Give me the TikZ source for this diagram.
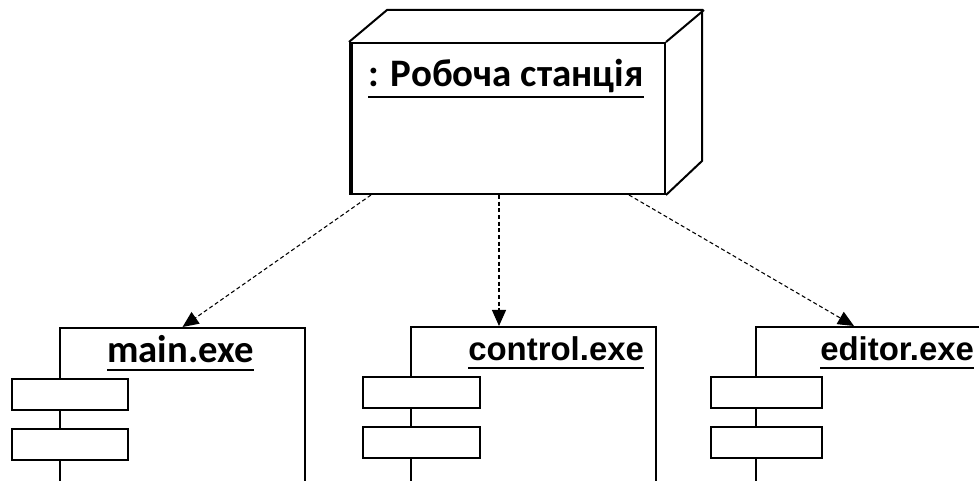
\documentclass[tikz,border=0pt]{standalone}
\usepackage{fontspec}
\setmainfont{Carlito}
\newfontfamily\arialfont{Liberation Sans}
\usetikzlibrary{arrows.meta,calc}
\begin{document}
\begin{tikzpicture}[x=0.75pt,y=-0.75pt,
  edge/.style={line width=1.5pt, line join=miter},
  facebox/.style={draw, edge, inner sep=0pt, minimum width=236.25pt, minimum height=113.25pt},
  compbox/.style={draw, edge, inner sep=0pt, minimum height=129.75pt},
  port/.style={draw, edge, fill=white, inner sep=0pt, minimum height=23.25pt},
  lblA/.style={font=\bfseries\fontsize{29}{32}\selectfont, inner sep=0pt, anchor=base west},
  lblB/.style={font=\arialfont\bfseries\fontsize{24.7}{28}\selectfont, inner sep=0pt, anchor=base west},
  uline/.style={line width=1.3pt},
  dep/.style={line width=0.8pt, dash pattern=on 3pt off 2pt, -{Triangle[length=12pt,width=10.5pt]}}
]
\useasboundingbox (0,0) rectangle (979,481);
\clip (0,0) rectangle (979,481);

% workstation node
\node[facebox] (ws) at (507.5,118.5) {};
\draw[edge] (ws.north west) -- ++(38,-32) -- ++(315,0) -- ++(0,151) -- (ws.south east);
\draw[edge] (ws.north east) -- ++(38,-32);
\draw[line width=3pt] ($(ws.north west)+(2,0)$) -- ($(ws.south west)+(2,0)$);
\node[font=\bfseries\fontsize{29.2}{32}\selectfont, inner sep=0pt, anchor=base west] (wslbl) at (368,87) {: Робоча станція};
\draw[uline] ($(wslbl.base west)+(0,10)$) -- ($(wslbl.base east)+(0,10)$);

% components
\node[compbox, minimum width=183.75pt] (mainbox) at (182.5,414.5) {};
\node[port, minimum width=87pt] (mainp1) at (70,394.5) {};
\node[port, minimum width=87pt] (mainp2) at (70,444.5) {};
\node[lblA] (mainlbl) at (107,363) {main.exe};
\draw[uline] ($(mainlbl.base west)+(0,7)$) -- ($(mainlbl.base east)+(0,7)$);

\node[compbox, minimum width=183.75pt] (ctrlbox) at (533.5,413.5) {};
\node[port, minimum width=87.75pt] (ctrlp1) at (421.5,392.5) {};
\node[port, minimum width=87.75pt] (ctrlp2) at (421.5,442.5) {};
\node[lblB] (ctrllbl) at (468,360) {control.exe};
\draw[uline] ($(ctrllbl.base west)+(0,8)$) -- ($(ctrllbl.base east)+(0,8)$);

\node[compbox, minimum width=183pt] (edbox) at (878,413.5) {};
\node[port, minimum width=83.25pt] (edp1) at (766.5,392.5) {};
\node[port, minimum width=83.25pt] (edp2) at (766.5,442.5) {};
\node[lblB] (edlbl) at (820,360) {editor.exe};
\draw[uline] ($(edlbl.base west)+(0,8)$) -- ($(edlbl.base east)+(0,8)$);

% dependencies
\coordinate (s1) at ($(ws.south west)+(22,0)$);
\coordinate (s2) at ($(ws.south west)+(150,0)$);
\coordinate (s3) at ($(ws.south west)+(280,0)$);
\coordinate (t1) at (mainbox.north);
\coordinate (t2) at ($(ctrlbox.north west)+(89,0)$);
\coordinate (t3) at ($(edbox.north west)+(99,0)$);
\draw[dep] (s1) -- (t1);
\draw[dep] (s2) -- (t2);
\draw[dep] (s3) -- (t3);
\end{tikzpicture}
\end{document}
